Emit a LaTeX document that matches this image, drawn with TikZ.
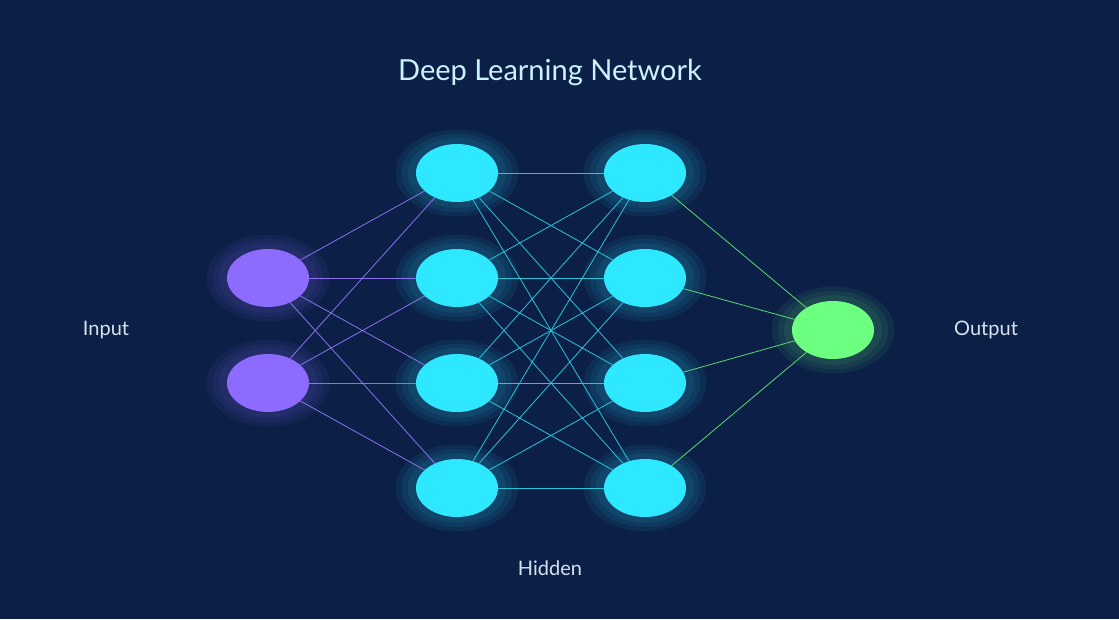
\documentclass[tikz,border=0pt]{standalone}
\usepackage{fontspec}
\setmainfont{Lato}
\begin{document}
\begin{tikzpicture}[x=1pt,y=-1pt,
  nd/.style={ellipse,minimum width=82pt,minimum height=58pt,inner sep=0pt},
  glow/.style={fill=#1,opacity=0.08},
  lbl/.style={text=lbcol,font=\fontsize{20}{24}\selectfont}]
\definecolor{bg}{HTML}{0B1F47}
\definecolor{cy}{HTML}{2EE8FF}
\definecolor{pu}{HTML}{8D6BFF}
\definecolor{gr}{HTML}{6CFF80}
\definecolor{lbcol}{HTML}{D6E2F0}
\definecolor{ttl}{HTML}{CBF3FF}
\usetikzlibrary{shapes.geometric}
\fill[bg] (0,0) rectangle (1119,619);
\useasboundingbox (0,0) rectangle (1119,619);
\node[text=ttl,font=\fontsize{29}{34}\selectfont] (title) at (550,72) {Deep Learning Network};
\node[lbl] (lin) at (106,330) {Input};
\node[lbl] (lout) at (986,330) {Output};
\node[lbl] (lhid) at (550,568) {Hidden};
% glows
\foreach \x/\y/\c in {268/278/pu,268/383/pu,457/173/cy,457/278/cy,457/383/cy,457/488/cy,645/173/cy,645/278/cy,645/383/cy,645/488/cy,833/330/gr}{
  \foreach \s in {1.5,1.35,1.2}{
    \fill[\c,opacity=0.07] (\x,\y) ellipse ({41*\s} and {29*\s});
  }
}
\node[nd,fill=pu] (i1) at (268,278) {};
\node[nd,fill=pu] (i2) at (268,383) {};
\foreach \n/\y in {1/173,2/278,3/383,4/488}{
  \node[nd,fill=cy] (a\n) at (457,\y) {};
  \node[nd,fill=cy] (b\n) at (645,\y) {};
}
\node[nd,fill=gr] (o) at (833,330) {};
\begin{scope}[on background layer/.style={}]
\end{scope}
\foreach \i in {1,2}{\foreach \j in {1,2,3,4}{
  \draw[pu!90!white,line width=0.8pt,opacity=0.9] (i\i) -- (a\j);}}
\foreach \i in {1,2,3,4}{\foreach \j in {1,2,3,4}{
  \draw[cy!85!black,line width=0.8pt] (a\i) -- (b\j);}}
\foreach \i in {1,2,3,4}{
  \draw[gr!85!black,line width=0.8pt] (b\i) -- (o);}
\end{tikzpicture}
\end{document}
